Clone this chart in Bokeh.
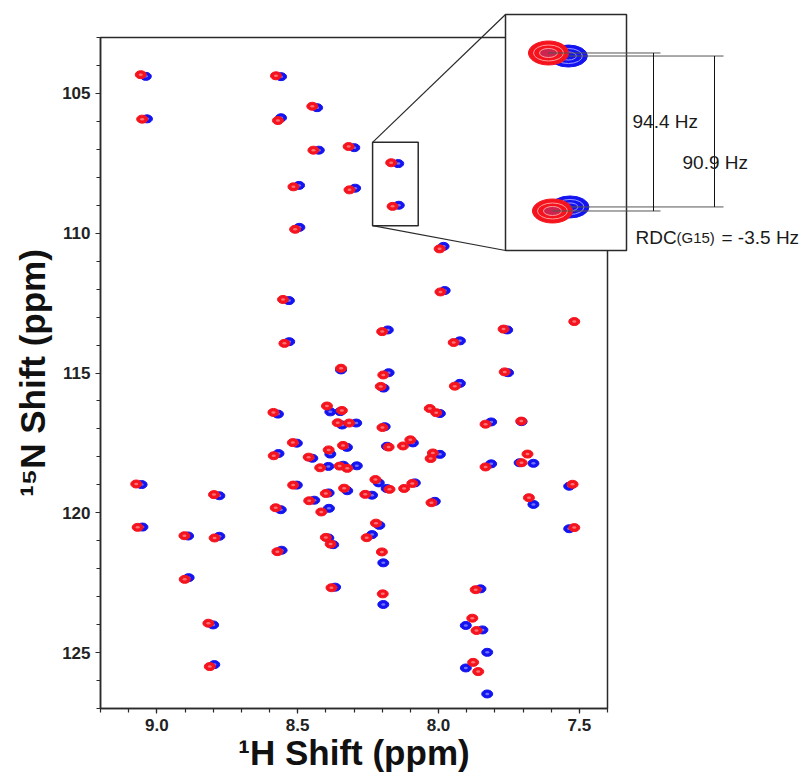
from bokeh.plotting import figure
from bokeh.models import Range1d, SingleIntervalTicker, PrintfTickFormatter
from bokeh.core.properties import value
from bokeh.embed import file_html
from bokeh.resources import INLINE

# ---------------- data (ppm) ----------------
red_h = [9.057, 9.052, 8.577, 8.570, 8.448, 8.444, 8.319, 8.515, 8.316, 8.509,
         8.168, 8.163, 7.996, 7.993, 8.552, 8.547, 8.346, 8.586, 8.396, 8.343,
         8.358, 8.317, 8.517, 8.585, 8.461, 8.390, 8.339, 8.420, 8.351, 8.324,
         8.200, 8.196, 8.205, 8.199, 8.177, 8.126, 8.100, 8.028, 8.020, 8.031,
         8.008, 7.769, 7.518, 7.946, 7.765, 7.942, 7.833, 7.706, 7.833, 7.684,
         7.705, 7.524, 8.224, 8.174, 8.122, 8.093, 8.260, 8.025, 7.679, 7.518,
         9.073, 8.797, 8.516, 8.459, 8.400, 8.416, 8.335, 8.578, 8.222, 9.068,
         8.902, 8.795, 8.901, 8.817, 8.812, 8.572, 8.400, 8.383, 8.380, 8.255,
         8.201, 8.198, 7.868, 7.880, 7.865, 7.877, 7.859]
red_n = [104.33, 105.92, 104.37, 105.97, 105.46, 107.03, 106.90, 108.34, 108.45, 109.86,
         107.48, 109.04, 110.56, 112.10, 112.37, 113.94, 114.83, 116.41, 116.18, 116.34,
         116.78, 116.79, 117.49, 117.96, 118.01, 117.75, 117.59, 118.39, 118.33, 118.41,
         113.52, 115.07, 115.48, 116.95, 117.65, 117.61, 117.39, 118.06, 117.86, 116.27,
         116.42, 113.43, 113.16, 113.91, 114.96, 115.47, 116.83, 116.72, 118.36, 117.90,
         118.21, 118.98, 118.81, 119.16, 119.13, 118.95, 119.34, 119.64, 119.46, 120.53,
         118.97, 119.35, 119.01, 119.57, 119.31, 119.97, 119.12, 119.82, 120.37, 120.52,
         120.82, 120.90, 122.38, 123.95, 125.50, 121.39, 120.88, 121.12, 122.68, 120.89,
         121.40, 122.90, 122.75, 123.77, 124.21, 125.35, 125.68]

blue_h = [9.039, 9.035, 8.559, 8.559, 8.431, 8.425, 8.299, 8.495, 8.296, 8.494,
          8.143, 8.141, 7.982, 7.978, 8.531, 8.530, 8.346, 8.570, 8.384, 8.349,
          8.342, 8.292, 8.503, 8.568, 8.448, 8.384, 8.325, 8.391, 8.338, 8.290,
          8.180, 8.177, 8.195, 8.191, 8.183, 8.091, 7.995, 7.995, 7.756, 7.924,
          7.753, 7.924, 7.813, 7.705, 7.813, 7.712, 7.663, 7.536, 8.212, 8.184,
          8.084, 8.236, 8.013, 7.663, 7.536, 9.054, 8.778, 8.503, 8.441, 8.390,
          8.389, 8.324, 8.560, 8.210, 9.051, 8.889, 8.778, 8.887, 8.800, 8.796,
          8.557, 8.391, 8.374, 8.367, 8.236, 8.196, 8.196, 7.851, 7.903, 7.844,
          7.827, 7.903, 7.827]
blue_n = [104.39, 105.91, 104.40, 105.87, 105.51, 107.03, 106.94, 108.29, 108.39, 109.79,
          107.51, 109.00, 110.47, 112.05, 112.41, 113.88, 114.89, 116.47, 116.39, 116.38,
          116.86, 116.79, 117.51, 117.88, 118.05, 117.90, 117.66, 118.34, 118.30, 118.32,
          113.46, 114.99, 115.54, 116.92, 117.62, 117.50, 117.91, 116.45, 113.46, 113.85,
          114.99, 115.37, 116.75, 116.74, 118.25, 118.21, 118.23, 119.05, 118.93, 119.13,
          118.93, 119.37, 119.59, 119.70, 120.57, 118.99, 119.39, 119.01, 119.55, 119.29,
          119.84, 119.21, 119.89, 120.45, 120.51, 120.83, 120.84, 122.32, 124.01, 125.43,
          121.34, 120.90, 121.14, 122.66, 120.78, 121.79, 123.28, 122.72, 124.03, 124.19,
          124.99, 125.55, 126.48]

x_label = "\u00b9H Shift (ppm)"
y_label = "\u00b9\u2075N Shift (ppm)"
j_labels = ["94.4 Hz", "90.9 Hz"]
rdc_parts = ["RDC", "(G15)", "= -3.5 Hz"]

# zoom window marked on the spectrum and the window shown in the inset
zoom_h = (8.234, 8.072)
zoom_n = (106.75, 109.73)
inset_h = (8.222, 8.070)
inset_n = (107.10, 109.43)

# ---------------- layout constants (page pixels) ----------------
W, H = 804, 776
RED = "#f5141e"
BLUE = "#1414f0"
LIGHT_RED = "#ff9a9a"
LIGHT_BLUE = "#9a9aff"
INK = "#2a2a2a"
FR_L, FR_R, FR_T, FR_B = 100, 607, 37, 708
BOX_L, BOX_R, BOX_T, BOX_B = 505, 626, 14, 250
X_RANGE = (9.2, 7.4)
Y_RANGE = (127.0, 103.0)


def lin(v, a0, a1, b0, b1):
    return b0 + (v - a0) * (b1 - b0) / (a1 - a0)


p = figure(width=W, height=H, output_backend="svg", toolbar_location=None,
           x_range=Range1d(*X_RANGE), y_range=Range1d(*Y_RANGE),
           min_border_left=FR_L, min_border_right=W - FR_R,
           min_border_top=FR_T, min_border_bottom=H - FR_B)
p.background_fill_color = "white"
p.border_fill_color = "white"
p.outline_line_color = INK
p.outline_line_width = 1.5
p.xgrid.visible = False
p.ygrid.visible = False

# pixel-space ranges for decorations and inset-space ranges for the zoom
p.extra_x_ranges = {
    "px_x": Range1d(FR_L, FR_R),
    "in_x": Range1d(lin(FR_L, BOX_L, BOX_R, *inset_h), lin(FR_R, BOX_L, BOX_R, *inset_h)),
}
p.extra_y_ranges = {
    "px_y": Range1d(FR_B, FR_T),
    "in_y": Range1d(lin(FR_B, BOX_T, BOX_B, *inset_n), lin(FR_T, BOX_T, BOX_B, *inset_n)),
}

# axes
for ax in (p.xaxis[0], p.yaxis[0]):
    ax.axis_line_color = INK
    ax.axis_line_width = 1.5
    ax.major_tick_line_color = INK
    ax.minor_tick_line_color = INK
    ax.major_tick_line_width = 1.2
    ax.minor_tick_line_width = 1.2
    ax.major_tick_in = 0
    ax.major_tick_out = 5
    ax.minor_tick_in = 0
    ax.minor_tick_out = 4
    ax.major_label_text_font = "Liberation Sans"
    ax.major_label_text_font_style = "bold"
    ax.major_label_text_font_size = "17px"
    ax.major_label_text_color = "#222222"
    ax.major_label_standoff = 5
    ax.axis_label_text_font = "Liberation Sans"
    ax.axis_label_text_font_style = "bold"
    ax.axis_label_text_font_size = "35px"
    ax.axis_label_text_color = "#111111"

p.xaxis.ticker = SingleIntervalTicker(interval=0.5, num_minor_ticks=5)
p.yaxis.ticker = SingleIntervalTicker(interval=5, num_minor_ticks=5)
p.xaxis.formatter = PrintfTickFormatter(format="%.1f")
p.yaxis.formatter = PrintfTickFormatter(format="%d")
p.xaxis.axis_label = x_label
p.yaxis.axis_label = y_label
p.xaxis.axis_label_standoff = -1
p.yaxis.axis_label_standoff = 7

# main spectrum: blue first, red on top
scr = dict(width_units="screen", height_units="screen")
p.ellipse(x=blue_h, y=blue_n, width=11, height=8, fill_color=BLUE, line_color=BLUE, **scr)
p.ellipse(x=blue_h, y=blue_n, width=4, height=2.5, fill_color=LIGHT_BLUE, fill_alpha=0.7,
          line_color=None, **scr)
p.ellipse(x=red_h, y=red_n, width=11, height=8, fill_color=RED, line_color=RED, **scr)
p.ellipse(x=red_h, y=red_n, width=4, height=2.5, fill_color=LIGHT_RED, fill_alpha=0.7,
          line_color=None, **scr)

# zoom marker box on the spectrum
p.quad(left=[zoom_h[0]], right=[zoom_h[1]], top=[zoom_n[0]], bottom=[zoom_n[1]],
       fill_color=None, line_color=INK, line_width=1.5)

pxkw = dict(x_range_name="px_x", y_range_name="px_y", level="overlay")

# connecting lines small box -> inset box (pixel space)
zx = lin(zoom_h[0], X_RANGE[0], X_RANGE[1], FR_L, FR_R)
zt = lin(zoom_n[0], Y_RANGE[1], Y_RANGE[0], FR_T, FR_B)
zb = lin(zoom_n[1], Y_RANGE[1], Y_RANGE[0], FR_T, FR_B)
p.segment(x0=[zx, zx], y0=[zt, zb], x1=[BOX_L, BOX_L], y1=[BOX_T, BOX_B],
          line_color=INK, line_width=1.2, **pxkw)

# inset box
p.quad(left=[BOX_L], right=[BOX_R], top=[BOX_T], bottom=[BOX_B], fill_color="white",
       line_color=INK, line_width=1.5, **pxkw)


def in_win(h, n):
    return min(inset_h) <= h <= max(inset_h) and min(inset_n) <= n <= max(inset_n)


ib = [(h, n) for h, n in zip(blue_h, blue_n) if in_win(h, n)]
ir = [(h, n) for h, n in zip(red_h, red_n) if in_win(h, n)]
ibh, ibn = [a for a, _ in ib], [b for _, b in ib]
irh, irn = [a for a, _ in ir], [b for _, b in ir]

inkw = dict(x_range_name="in_x", y_range_name="in_y", level="overlay")
p.ellipse(x=ibh, y=ibn, width=38, height=22, fill_color=BLUE, line_color=BLUE, **scr, **inkw)
p.ellipse(x=ibh, y=ibn, width=28, height=15, fill_color=None, line_color=LIGHT_BLUE,
          line_width=1, **scr, **inkw)
p.ellipse(x=ibh, y=ibn, width=16, height=8, fill_color=None, line_color=LIGHT_BLUE,
          line_width=1, **scr, **inkw)
p.ellipse(x=irh, y=irn, width=40, height=24, fill_color=RED, line_color=RED, **scr, **inkw)
p.ellipse(x=irh, y=irn, width=30, height=16, fill_color=None, line_color=LIGHT_RED,
          line_width=1, **scr, **inkw)
p.ellipse(x=irh, y=irn, width=18, height=9, fill_color="#b03070", fill_alpha=0.6,
          line_color=LIGHT_RED, line_width=1, **scr, **inkw)

# extension lines from the inset peaks
red_end = lin(660, BOX_L, BOX_R, *inset_h)
blue_end = lin(723, BOX_L, BOX_R, *inset_h)
p.segment(x0=irh, y0=irn, x1=[red_end] * len(irh), y1=irn, line_color="#555555",
          line_width=1, **inkw)
p.segment(x0=ibh, y0=ibn, x1=[blue_end] * len(ibh), y1=ibn, line_color="#555555",
          line_width=1, **inkw)

# dimension arrows (line + triangular heads touching the extension lines)
HEAD = 8
for px_x, ns in ((653, sorted(irn)), (714, sorted(ibn))):
    ax_h = lin(px_x, BOX_L, BOX_R, *inset_h)
    top_px = lin(ns[0], *inset_n, BOX_T, BOX_B)
    bot_px = lin(ns[-1], *inset_n, BOX_T, BOX_B)
    top_c = lin(top_px + HEAD / 2, BOX_T, BOX_B, *inset_n)
    bot_c = lin(bot_px - HEAD / 2, BOX_T, BOX_B, *inset_n)
    p.segment(x0=[ax_h], y0=[ns[0]], x1=[ax_h], y1=[ns[-1]], line_color="#111111",
              line_width=1, **inkw)
    p.scatter(x=[ax_h], y=[top_c], marker="triangle", size=HEAD, fill_color="#111111",
              line_color="#111111", **inkw)
    p.scatter(x=[ax_h], y=[bot_c], marker="inverted_triangle", size=HEAD,
              fill_color="#111111", line_color="#111111", **inkw)

txt = dict(text_font=value("Liberation Sans"), text_color="#1a1a1a",
           text_baseline="alphabetic", text_align="left", **pxkw)
p.text(x=[632, 682], y=[121, 162], text=j_labels, text_font_size=value("19px"), **txt)
p.text(x=[635], y=[237], text=[rdc_parts[0]], text_font_size=value("19px"), **txt)
p.text(x=[676], y=[237], text=[rdc_parts[1]], text_font_size=value("15px"), **txt)
p.text(x=[721], y=[237], text=[rdc_parts[2]], text_font_size=value("19px"), **txt)

open("out.html", "w").write(file_html(p, INLINE))
